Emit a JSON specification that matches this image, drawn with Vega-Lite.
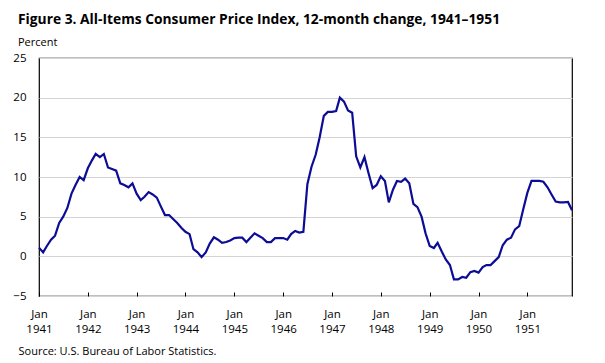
{
  "$schema": "https://vega.github.io/schema/vega-lite/v6.json",
  "autosize": "none",
  "width": 533,
  "height": 238,
  "padding": {"left": 39, "top": 58, "right": 33, "bottom": 67},
  "background": "white",
  "config": {
    "view": {"stroke": "black", "strokeWidth": 1.2},
    "font": "Open Sans"
  },
  "title": {
    "text": "Figure 3. All-Items Consumer Price Index, 12-month change, 1941–1951",
    "subtitle": "Percent",
    "anchor": "start",
    "frame": "group",
    "dx": -21,
    "offset": 4,
    "font": "Open Sans",
    "fontSize": 13.8,
    "fontWeight": "bold",
    "color": "black",
    "subtitleFont": "Open Sans",
    "subtitleFontSize": 11,
    "subtitleColor": "black",
    "subtitlePadding": 10
  },
  "data": {
    "values": [
      {"date": "1941-01-01", "pct": 1.1}, {"date": "1941-02-01", "pct": 0.5}, {"date": "1941-03-01", "pct": 1.3}, {"date": "1941-04-01", "pct": 2.1}, {"date": "1941-05-01", "pct": 2.6}, {"date": "1941-06-01", "pct": 4.2}, {"date": "1941-07-01", "pct": 5.0}, {"date": "1941-08-01", "pct": 6.1}, {"date": "1941-09-01", "pct": 7.9}, {"date": "1941-10-01", "pct": 9.0}, {"date": "1941-11-01", "pct": 10.0}, {"date": "1941-12-01", "pct": 9.6},
      {"date": "1942-01-01", "pct": 11.1}, {"date": "1942-02-01", "pct": 12.1}, {"date": "1942-03-01", "pct": 12.9}, {"date": "1942-04-01", "pct": 12.5}, {"date": "1942-05-01", "pct": 12.9}, {"date": "1942-06-01", "pct": 11.2}, {"date": "1942-07-01", "pct": 11.0}, {"date": "1942-08-01", "pct": 10.8}, {"date": "1942-09-01", "pct": 9.2}, {"date": "1942-10-01", "pct": 9.0}, {"date": "1942-11-01", "pct": 8.7}, {"date": "1942-12-01", "pct": 9.2},
      {"date": "1943-01-01", "pct": 7.9}, {"date": "1943-02-01", "pct": 7.1}, {"date": "1943-03-01", "pct": 7.5}, {"date": "1943-04-01", "pct": 8.1}, {"date": "1943-05-01", "pct": 7.8}, {"date": "1943-06-01", "pct": 7.4}, {"date": "1943-07-01", "pct": 6.3}, {"date": "1943-08-01", "pct": 5.2}, {"date": "1943-09-01", "pct": 5.2}, {"date": "1943-10-01", "pct": 4.7}, {"date": "1943-11-01", "pct": 4.2}, {"date": "1943-12-01", "pct": 3.6},
      {"date": "1944-01-01", "pct": 3.1}, {"date": "1944-02-01", "pct": 2.8}, {"date": "1944-03-01", "pct": 0.9}, {"date": "1944-04-01", "pct": 0.5}, {"date": "1944-05-01", "pct": -0.1}, {"date": "1944-06-01", "pct": 0.5}, {"date": "1944-07-01", "pct": 1.6}, {"date": "1944-08-01", "pct": 2.4}, {"date": "1944-09-01", "pct": 2.1}, {"date": "1944-10-01", "pct": 1.7}, {"date": "1944-11-01", "pct": 1.8}, {"date": "1944-12-01", "pct": 2.0},
      {"date": "1945-01-01", "pct": 2.3}, {"date": "1945-02-01", "pct": 2.35}, {"date": "1945-03-01", "pct": 2.35}, {"date": "1945-04-01", "pct": 1.8}, {"date": "1945-05-01", "pct": 2.35}, {"date": "1945-06-01", "pct": 2.9}, {"date": "1945-07-01", "pct": 2.6}, {"date": "1945-08-01", "pct": 2.3}, {"date": "1945-09-01", "pct": 1.8}, {"date": "1945-10-01", "pct": 1.8}, {"date": "1945-11-01", "pct": 2.3}, {"date": "1945-12-01", "pct": 2.3},
      {"date": "1946-01-01", "pct": 2.3}, {"date": "1946-02-01", "pct": 2.1}, {"date": "1946-03-01", "pct": 2.8}, {"date": "1946-04-01", "pct": 3.2}, {"date": "1946-05-01", "pct": 3.0}, {"date": "1946-06-01", "pct": 3.1}, {"date": "1946-07-01", "pct": 9.1}, {"date": "1946-08-01", "pct": 11.3}, {"date": "1946-09-01", "pct": 12.8}, {"date": "1946-10-01", "pct": 15.0}, {"date": "1946-11-01", "pct": 17.7}, {"date": "1946-12-01", "pct": 18.2},
      {"date": "1947-01-01", "pct": 18.2}, {"date": "1947-02-01", "pct": 18.3}, {"date": "1947-03-01", "pct": 20.0}, {"date": "1947-04-01", "pct": 19.5}, {"date": "1947-05-01", "pct": 18.4}, {"date": "1947-06-01", "pct": 18.1}, {"date": "1947-07-01", "pct": 12.6}, {"date": "1947-08-01", "pct": 11.2}, {"date": "1947-09-01", "pct": 12.5}, {"date": "1947-10-01", "pct": 10.5}, {"date": "1947-11-01", "pct": 8.6}, {"date": "1947-12-01", "pct": 9.0},
      {"date": "1948-01-01", "pct": 10.1}, {"date": "1948-02-01", "pct": 9.5}, {"date": "1948-03-01", "pct": 6.8}, {"date": "1948-04-01", "pct": 8.4}, {"date": "1948-05-01", "pct": 9.5}, {"date": "1948-06-01", "pct": 9.4}, {"date": "1948-07-01", "pct": 9.8}, {"date": "1948-08-01", "pct": 9.2}, {"date": "1948-09-01", "pct": 6.6}, {"date": "1948-10-01", "pct": 6.2}, {"date": "1948-11-01", "pct": 5.0}, {"date": "1948-12-01", "pct": 2.9},
      {"date": "1949-01-01", "pct": 1.3}, {"date": "1949-02-01", "pct": 1.05}, {"date": "1949-03-01", "pct": 1.7}, {"date": "1949-04-01", "pct": 0.6}, {"date": "1949-05-01", "pct": -0.4}, {"date": "1949-06-01", "pct": -1.1}, {"date": "1949-07-01", "pct": -2.9}, {"date": "1949-08-01", "pct": -2.9}, {"date": "1949-09-01", "pct": -2.6}, {"date": "1949-10-01", "pct": -2.7}, {"date": "1949-11-01", "pct": -2.0}, {"date": "1949-12-01", "pct": -1.85},
      {"date": "1950-01-01", "pct": -2.05}, {"date": "1950-02-01", "pct": -1.35}, {"date": "1950-03-01", "pct": -1.1}, {"date": "1950-04-01", "pct": -1.1}, {"date": "1950-05-01", "pct": -0.6}, {"date": "1950-06-01", "pct": -0.1}, {"date": "1950-07-01", "pct": 1.4}, {"date": "1950-08-01", "pct": 2.1}, {"date": "1950-09-01", "pct": 2.35}, {"date": "1950-10-01", "pct": 3.4}, {"date": "1950-11-01", "pct": 3.8}, {"date": "1950-12-01", "pct": 5.9},
      {"date": "1951-01-01", "pct": 8.0}, {"date": "1951-02-01", "pct": 9.5}, {"date": "1951-03-01", "pct": 9.5}, {"date": "1951-04-01", "pct": 9.5}, {"date": "1951-05-01", "pct": 9.4}, {"date": "1951-06-01", "pct": 8.7}, {"date": "1951-07-01", "pct": 7.8}, {"date": "1951-08-01", "pct": 6.9}, {"date": "1951-09-01", "pct": 6.8}, {"date": "1951-10-01", "pct": 6.8}, {"date": "1951-11-01", "pct": 6.85}, {"date": "1951-12-01", "pct": 5.8}
    ]
  },
  "mark": {"type": "line", "color": "#0c0c96", "strokeWidth": 2.2},
  "encoding": {
    "x": {
      "field": "date",
      "type": "temporal",
      "scale": {"type": "utc", "nice": false},
      "axis": {
        "title": "Source: U.S. Bureau  of Labor Statistics.",
        "titleFont": "Open Sans",
        "titleFontSize": 11,
        "titleFontWeight": "normal",
        "titleColor": "black",
        "titleAnchor": "start",
        "titleAlign": "left",
        "titleBaseline": "alphabetic",
        "titleX": -21,
        "titleY": 58,
        "tickCount": {"interval": "year", "step": 1},
        "labelExpr": "['Jan', utcFormat(datum.value, '%Y')]",
        "labelFont": "Open Sans",
        "labelFontSize": 11.5,
        "labelColor": "black",
        "labelLineHeight": 15,
        "labelPadding": 16,
        "labelOverlap": false,
        "labelFlush": false,
        "tickSize": -4,
        "tickColor": "black",
        "tickWidth": 1,
        "domain": false,
        "grid": false
      }
    },
    "y": {
      "field": "pct",
      "type": "quantitative",
      "scale": {"domain": [-5, 25], "nice": false},
      "axis": {
        "title": null,
        "values": [-5, 0, 5, 10, 15, 20, 25],
        "labelFont": "Open Sans",
        "labelFontSize": 11.5,
        "labelColor": "black",
        "labelPadding": 13,
        "ticks": false,
        "domain": false,
        "grid": true,
        "gridColor": "#d4d4d4",
        "gridWidth": 1
      }
    }
  }
}
